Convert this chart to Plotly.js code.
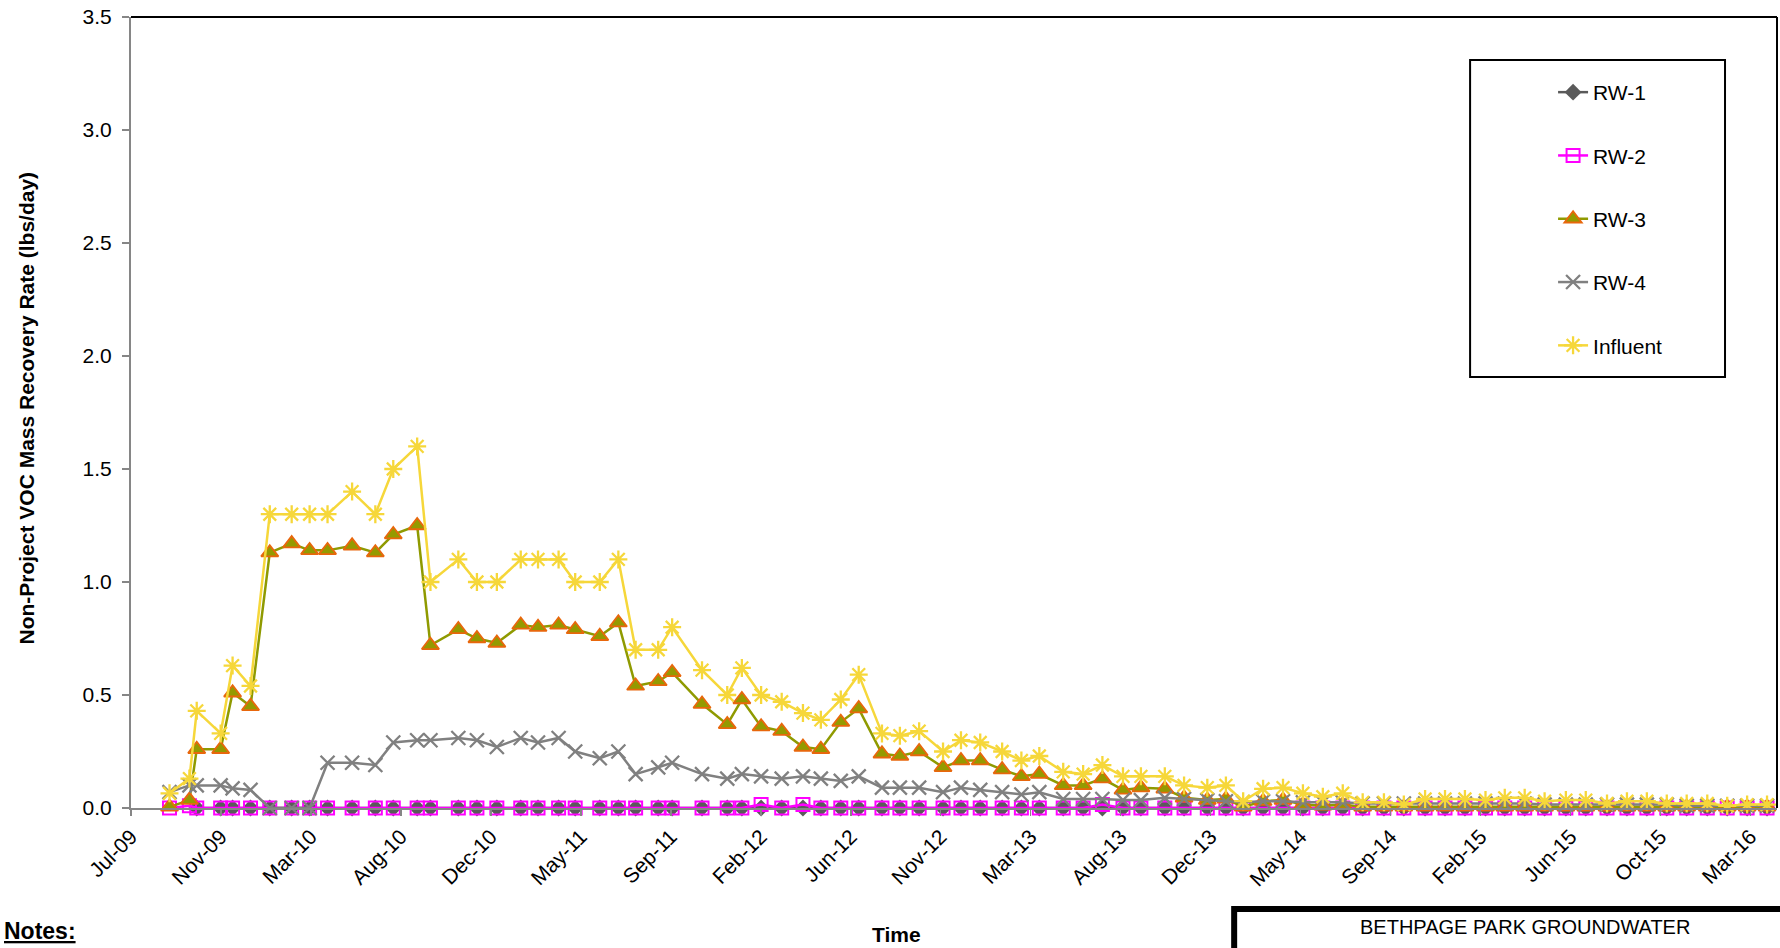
<!DOCTYPE html>
<html>
<head>
<meta charset="utf-8">
<script src="https://cdn.plot.ly/plotly-3.0.1.min.js"></script>
<style>
  html, body { margin: 0; padding: 0; background: #ffffff; }
  #chart { width: 1780px; height: 948px; }
</style>
</head>
<body>
<div id="chart"></div>
<script>
// ---------- data ----------
const sampleDates = [
  '2009-09-02','2009-10-02','2009-10-13','2009-11-18','2009-12-06','2010-01-02','2010-01-31','2010-03-05','2010-04-01','2010-04-28',
  '2010-06-04','2010-07-09','2010-08-05','2010-09-10','2010-09-30','2010-11-11','2010-12-09','2011-01-08','2011-02-13','2011-03-11',
  '2011-04-11','2011-05-06','2011-06-12','2011-07-10','2011-08-05','2011-09-08','2011-09-29','2011-11-13','2011-12-21','2012-01-12',
  '2012-02-10','2012-03-12','2012-04-13','2012-05-10','2012-06-09','2012-07-06','2012-08-10','2012-09-06','2012-10-05','2012-11-10',
  '2012-12-07','2013-01-05','2013-02-07','2013-03-08','2013-04-04','2013-05-10','2013-06-09','2013-07-08','2013-08-08','2013-09-04',
  '2013-10-10','2013-11-08','2013-12-13','2014-01-10','2014-02-05','2014-03-07','2014-04-06','2014-05-06','2014-06-05','2014-07-05',
  '2014-08-04','2014-09-05','2014-10-05','2014-11-06','2014-12-06','2015-01-05','2015-02-05','2015-03-06','2015-04-05','2015-05-05',
  '2015-06-06','2015-07-06','2015-08-07','2015-09-06','2015-10-06','2015-11-05','2015-12-05','2016-01-05','2016-02-04','2016-03-05',
  '2016-04-04'
];

const rw1 = [
  null, null, 0, 0, 0, 0, 0, 0, 0, 0,
  0, 0, 0, 0, 0, 0, 0, 0, 0, 0,
  0, 0, 0, 0, 0, 0, 0, 0, 0, 0,
  0, 0, 0, 0, 0, 0, 0, 0, 0, 0,
  0, 0, 0, 0, 0, 0, 0, 0, 0, 0,
  0, 0, 0, 0, 0, 0, 0, 0, 0, 0,
  0, 0, 0, 0, 0, 0, 0, 0, 0, 0,
  0, 0, 0, 0, 0, 0, 0, 0, 0, 0,
  0
];

const rw2 = [
  0, 0.01, 0, 0, 0, 0, 0, 0, 0, 0,
  0, 0, 0, 0, 0, 0, 0, 0, 0, 0,
  0, 0, 0, 0, 0, 0, 0, 0, 0, 0,
  0.015, 0, 0.015, 0, 0, 0, 0, 0, 0, 0,
  0, 0, 0, 0, 0, 0, 0, 0.015, 0, 0,
  0, 0, 0, 0, 0, 0, 0, 0, 0, 0,
  0, 0, 0, 0, 0, 0, 0, 0, 0, 0,
  0, 0, 0, 0, 0, 0, 0, 0, 0, 0,
  0
];

const rw3 = [
  0.005, 0.035, 0.26, 0.26, 0.51, 0.45, 1.13, 1.17, 1.14, 1.14,
  1.16, 1.13, 1.21, 1.25, 0.72, 0.79, 0.75, 0.73, 0.81, 0.80,
  0.81, 0.79, 0.76, 0.82, 0.54, 0.56, 0.60, 0.46, 0.37, 0.48,
  0.36, 0.34, 0.27, 0.26, 0.38, 0.44, 0.24, 0.23, 0.25, 0.18,
  0.21, 0.21, 0.17, 0.14, 0.15, 0.10, 0.10, 0.13, 0.08, 0.09,
  0.085, 0.045, 0.035, 0.04, 0.005, 0.03, 0.035, 0.015, 0.01, 0.015,
  0.005, 0.005, 0.005, 0.005, 0.005, 0.005, 0.005, 0.005, 0.005, 0.005,
  0.005, 0.005, 0.005, 0.005, 0.005, 0.005, 0.005, 0.005, 0.005, 0.005,
  0.005
];

const rw4 = [
  0.07, 0.10, 0.10, 0.10, 0.087, 0.08, 0, 0, 0, 0.20,
  0.20, 0.19, 0.29, 0.30, 0.30, 0.31, 0.30, 0.27, 0.31, 0.29,
  0.31, 0.25, 0.22, 0.25, 0.15, 0.18, 0.20, 0.15, 0.13, 0.15,
  0.14, 0.13, 0.14, 0.13, 0.12, 0.14, 0.09, 0.09, 0.09, 0.07,
  0.09, 0.08, 0.07, 0.06, 0.07, 0.04, 0.04, 0.04, 0.035, 0.035,
  0.045, 0.04, 0.035, 0.03, 0.025, 0.03, 0.03, 0.025, 0.025, 0.025,
  0.02, 0.02, 0.02, 0.02, 0.02, 0.02, 0.02, 0.02, 0.02, 0.015,
  0.015, 0.015, 0.015, 0.015, 0.015, 0.015, 0.01, 0.01, 0.01, 0.01,
  0.01
];

const influent = [
  0.065, 0.13, 0.43, 0.33, 0.63, 0.54, 1.30, 1.30, 1.30, 1.30,
  1.40, 1.30, 1.50, 1.60, 1.00, 1.10, 1.00, 1.00, 1.10, 1.10,
  1.10, 1.00, 1.00, 1.10, 0.70, 0.70, 0.80, 0.61, 0.50, 0.62,
  0.50, 0.47, 0.42, 0.39, 0.48, 0.59, 0.33, 0.32, 0.34, 0.25,
  0.30, 0.29, 0.25, 0.21, 0.23, 0.16, 0.15, 0.19, 0.14, 0.14,
  0.14, 0.10, 0.09, 0.10, 0.03, 0.085, 0.09, 0.065, 0.05, 0.065,
  0.025, 0.025, 0.015, 0.04, 0.04, 0.04, 0.035, 0.045, 0.045, 0.03,
  0.035, 0.035, 0.02, 0.03, 0.03, 0.02, 0.02, 0.02, 0.01, 0.015,
  0.015
];

const tickLabels = ['Jul-09','Nov-09','Mar-10','Aug-10','Dec-10','May-11','Sep-11','Feb-12','Jun-12','Nov-12',
                    'Mar-13','Aug-13','Dec-13','May-14','Sep-14','Feb-15','Jun-15','Oct-15','Mar-16'];

const seriesNames = ['RW-1','RW-2','RW-3','RW-4','Influent'];

// ---------- axis geometry ----------
const DAY = 86400000;
const axisStart = Date.UTC(2009, 6, 6);
const tickStepDays = 135.5;
const axisSpanDays = 2479;
const iso = ms => new Date(ms).toISOString().slice(0, 19).replace('T', ' ');
const tickVals = tickLabels.map((_, i) => iso(axisStart + i * tickStepDays * DAY));

const FONT = 'Liberation Sans, Arial, Helvetica, sans-serif';

function mk(name, y, lineColor, marker) {
  return {
    type: 'scatter', mode: 'lines+markers', name: name, legendgroup: name,
    x: sampleDates, y: y, connectgaps: false, cliponaxis: false,
    line: {color: lineColor, width: 2.5},
    marker: marker,
    hoverinfo: 'x+y+name'
  };
}

const traces = [
  mk(seriesNames[0], rw1, '#5a5a5a', {symbol: 'diamond', size: 13, color: '#5a5a5a', line: {width: 0}}),
  mk(seriesNames[1], rw2, '#ff00ff', {symbol: 'square-open', size: 13, color: '#ff00ff', line: {width: 2, color: '#ff00ff'}}),
  mk(seriesNames[2], rw3, '#8f9a00', {symbol: 'triangle-up', size: 15, color: '#949a00', line: {width: 1.8, color: '#e8670c'}}),
  mk(seriesNames[3], rw4, '#808080', {symbol: 'x-thin-open', size: 14, color: '#808080', line: {width: 2.3, color: '#808080'}}),
  mk(seriesNames[4], influent, '#f6d73a', {symbol: 'asterisk-open', size: 15, color: '#f6d73a', line: {width: 2.3, color: '#f6d73a'}})
];

// plot area in pixels: left 130.5, right 1777, top 17, bottom 808
const L = 130.5, R = 1777, T = 17, B = 808;
const W = R - L, H = B - T;
const px = x => (x - L) / W;
const py = y => (B - y) / H;

const layout = {
  width: 1780, height: 948,
  margin: {l: L, r: 1780 - R, t: T, b: 948 - B, pad: 0},
  paper_bgcolor: '#ffffff', plot_bgcolor: '#ffffff',
  font: {family: FONT, size: 21, color: '#000000'},
  showlegend: true,
  legend: {
    x: px(1553), y: py(72), xanchor: 'left', yanchor: 'top',
    bgcolor: 'rgba(0,0,0,0)', borderwidth: 0,
    font: {family: FONT, size: 21, color: '#000000'},
    traceorder: 'grouped', tracegroupgap: 33
  },
  xaxis: {
    type: 'date',
    range: [iso(axisStart), iso(axisStart + axisSpanDays * DAY)],
    tickmode: 'array', tickvals: tickVals, ticktext: tickLabels,
    tickangle: -45,
    tickfont: {family: FONT, size: 21, color: '#000000'},
    showgrid: false, zeroline: false,
    showline: true, linecolor: '#868686', linewidth: 2,
    ticks: 'outside', ticklen: 6, tickcolor: '#868686', tickwidth: 1.5,
    automargin: false, fixedrange: true
  },
  yaxis: {
    range: [0, 3.5], tickmode: 'linear', tick0: 0, dtick: 0.5, tickformat: '.1f',
    tickfont: {family: FONT, size: 21, color: '#000000'},
    showgrid: false, zeroline: false,
    showline: true, linecolor: '#868686', linewidth: 2,
    ticks: 'outside', ticklen: 7, tickcolor: '#868686', tickwidth: 1.5,
    ticklabelstandoff: 6,
    automargin: false, fixedrange: true
  },
  shapes: [
    {type: 'line', xref: 'paper', yref: 'paper', x0: 0, x1: 1, y0: 1, y1: 1, line: {color: '#000000', width: 2}},
    {type: 'line', xref: 'paper', yref: 'paper', x0: 1, x1: 1, y0: 0, y1: 1, line: {color: '#000000', width: 2}},
    {type: 'rect', xref: 'paper', yref: 'paper', x0: px(1470), x1: px(1725), y0: py(377), y1: py(60),
     line: {color: '#000000', width: 2}, fillcolor: 'rgba(0,0,0,0)'},
    {type: 'rect', xref: 'paper', yref: 'paper', x0: px(1234), x1: px(1800), y0: py(990), y1: py(909),
     line: {color: '#000000', width: 6}, fillcolor: 'rgba(0,0,0,0)'}
  ],
  annotations: [
    {text: '<b>Non-Project VOC Mass Recovery Rate (lbs/day)</b>', xref: 'paper', yref: 'paper',
     x: px(25), y: py(408), textangle: -90, showarrow: false, xanchor: 'center', yanchor: 'middle',
     font: {family: FONT, size: 21, color: '#000000'}},
    {text: '<b>Time</b>', xref: 'paper', yref: 'paper', x: px(896), y: py(934), showarrow: false,
     xanchor: 'center', yanchor: 'middle', font: {family: FONT, size: 21, color: '#000000'}},
    {text: '<b><u>Notes:</u></b>', xref: 'paper', yref: 'paper', x: px(1), y: py(931), showarrow: false,
     xanchor: 'left', yanchor: 'middle', font: {family: FONT, size: 23, color: '#000000'}},
    {text: 'BETHPAGE PARK GROUNDWATER', xref: 'paper', yref: 'paper', x: px(1525), y: py(927), showarrow: false,
     xanchor: 'center', yanchor: 'middle', font: {family: FONT, size: 20, color: '#000000'}}
  ]
};

Plotly.newPlot('chart', traces, layout, {displayModeBar: false, staticPlot: true});
</script>
</body>
</html>
